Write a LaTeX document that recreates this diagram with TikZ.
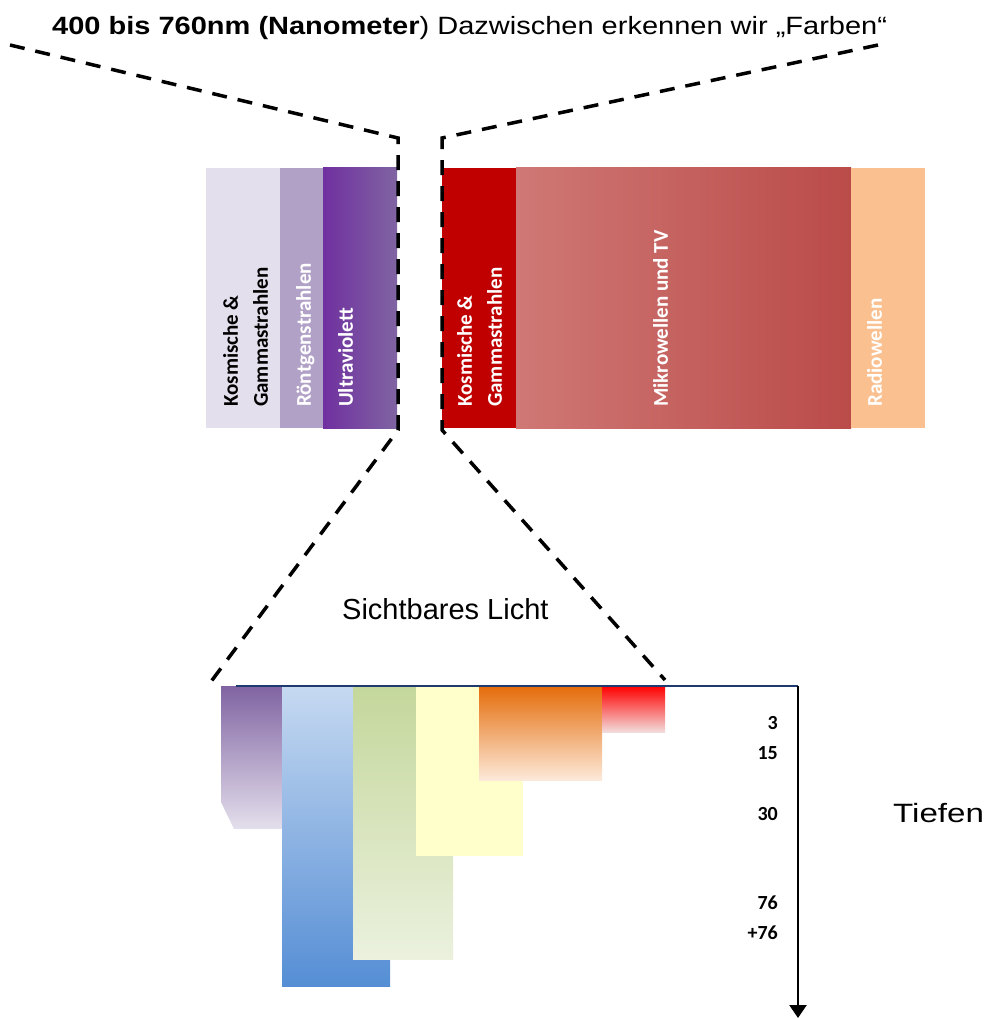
\documentclass[tikz,border=0pt]{standalone}
\usepackage{graphicx}
\usepackage{fontspec}
\setmainfont{Liberation Sans}
\newfontfamily\carlito{Carlito}
\usetikzlibrary{arrows.meta}
\definecolor{kosm}{HTML}{E4DFEC}
\definecolor{roent}{HTML}{B2A1C7}
\definecolor{uvL}{HTML}{7030A0}
\definecolor{uvR}{HTML}{8064A2}
\definecolor{gammaR}{HTML}{C00000}
\definecolor{mwL}{HTML}{CF7875}
\definecolor{mwR}{HTML}{BA4B49}
\definecolor{radio}{HTML}{FAC090}
\definecolor{navy}{HTML}{1F3A6E}
\definecolor{vioMid}{RGB}{184,169,203}
\definecolor{blueTop}{RGB}{198,217,241}
\definecolor{blueMid}{RGB}{159,186,228}
\definecolor{blueBot}{RGB}{85,142,213}
\definecolor{grnTop}{RGB}{196,215,155}
\definecolor{grnMid}{RGB}{220,230,198}
\definecolor{grnBot}{RGB}{235,241,222}
\definecolor{yel}{RGB}{255,255,204}
\definecolor{orTop}{RGB}{228,108,10}
\definecolor{orMid}{RGB}{241,179,143}
\definecolor{orBot}{RGB}{253,233,217}
\definecolor{redTop}{RGB}{255,0,0}
\definecolor{redMid}{RGB}{250,130,136}
\definecolor{redBot}{RGB}{242,220,219}
\tikzset{
  dashline/.style={line width=3.5pt, dash pattern=on 15pt off 11pt},
  barlabel/.style={rotate=90, anchor=north west, inner sep=0pt, align=left,
    font=\carlito\bfseries\fontsize{21}{30}\selectfont},
  depth/.style={anchor=base east, inner sep=0pt, font=\carlito\bfseries\fontsize{20}{24}\selectfont},
}
\begin{document}
\begin{tikzpicture}[x=1pt,y=-1pt]
\useasboundingbox (0,0) rectangle (993,1019);

% title
\node[anchor=base west, inner sep=0pt, font=\fontsize{25}{30}\selectfont] (title) at (52,35)
  {\scalebox{1.16}[1]{\textbf{400 bis 760nm (Nanometer}) Dazwischen erkennen wir „Farben“}};

% top spectrum bars
\fill[kosm] (206,168) rectangle (280,428);
\fill[roent] (280,168) rectangle (323,428);
\shade[left color=uvL, right color=uvR] (323,168) rectangle (397,428);
\fill[gammaR] (442,168) rectangle (516,428);
\shade[left color=mwL, right color=mwR] (516,168) rectangle (851,428);
\fill[radio] (851,168) rectangle (925,428);

\node[barlabel, text=black] (l1) at (223,407) {Kosmische \&\\Gammastrahlen};
\node[barlabel, text=white] (l2) at (296,407) {Röntgenstrahlen};
\node[barlabel, text=white] (l3) at (338,407) {Ultraviolett};
\node[barlabel, text=white] (l4) at (457,407) {Kosmische \&\\Gammastrahlen};
\node[barlabel, text=white] (l5) at (653,407) {Mikrowellen und TV};
\node[barlabel, text=white] (l6) at (867,407) {Radiowellen};

% dashed zoom lines
\coordinate (aL) at (10,45);
\coordinate (bL) at (398,138);
\coordinate (cL) at (398,430);
\coordinate (dL) at (207,687);
\coordinate (aR) at (878,45);
\coordinate (bR) at (442,138);
\coordinate (cR) at (442,430);
\coordinate (dR) at (665,680);
\draw[dashline] (aL) -- (bL) -- (cL) -- (dL);
\draw[dashline] (aR) -- (bR) -- (cR) -- (dR);

\node[anchor=base west, inner sep=0pt, font=\fontsize{29}{34}\selectfont] (licht) at (342,619) {Sichtbares Licht};

% visible light bars
\shade[top color=uvR, middle color=vioMid, bottom color=kosm]
  (221,686) -- (282,686) -- (282,829) -- (234,829) -- (221,802) -- cycle;
\shade[top color=blueTop, middle color=blueMid, bottom color=blueBot]
  (282,686) rectangle (390,986);
\shade[top color=grnTop, middle color=grnMid, bottom color=grnBot]
  (353,686) rectangle (453,959);
\fill[yel] (416,686) rectangle (523,856);
\shade[top color=orTop, middle color=orMid, bottom color=orBot]
  (479,686) rectangle (602,780);
\shade[top color=redTop, middle color=redMid, bottom color=redBot]
  (602,686) rectangle (665,732);

% axis
\coordinate (axL) at (236,686);
\coordinate (axO) at (798,686);
\coordinate (axE) at (798,1018);
\draw[navy, line width=2pt] (axL) -- (axO);
\draw[line width=2.5pt, -{Triangle[width=17pt,length=13pt]}] (axO) -- (axE);

\node[depth] (d3) at (778,729) {3};
\node[depth] (d15) at (778,759) {15};
\node[depth] (d30) at (778,820) {30};
\node[depth] (d76) at (778,909) {76};
\node[depth] (d76p) at (778,939) {+76};

\node[anchor=base west, inner sep=0pt, font=\fontsize{26.5}{30}\selectfont] (tiefen) at (893,822) {\scalebox{1.25}[1]{Tiefen}};
\end{tikzpicture}
\end{document}
